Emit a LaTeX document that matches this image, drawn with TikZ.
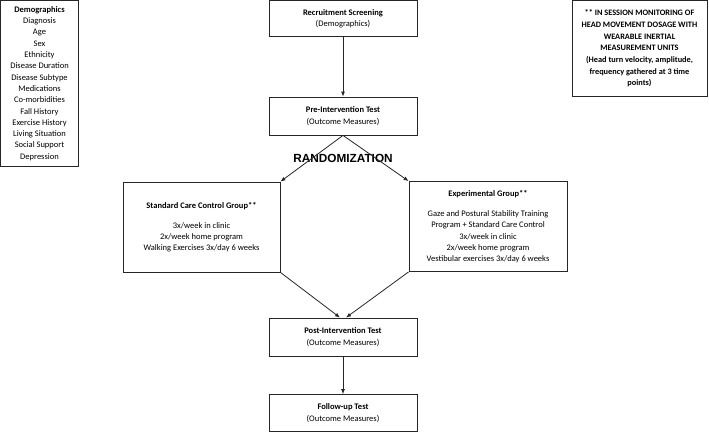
\documentclass[tikz,border=0pt]{standalone}
\usepackage{fontspec}
\setmainfont{Carlito}
\newfontfamily\randfont{Liberation Sans}
\usetikzlibrary{arrows.meta}
\tikzset{
  box/.style={draw=black!85, line width=0.8pt, rectangle, align=center, inner sep=0pt,
    font=\fontsize{8.5}{11.3}\selectfont},
  arr/.style={draw=black!85, line width=0.8pt, -{Latex[length=5pt,width=4pt]}}
}
\begin{document}
\begin{tikzpicture}[x=1pt,y=-1pt]
\useasboundingbox (0,0) rectangle (709,432);
\node[box, minimum width=78pt, minimum height=166pt] (demo) at (39.5,83.5)
  {\textbf{Demographics}\\Diagnosis\\Age\\Sex\\Ethnicity\\Disease Duration\\Disease Subtype\\Medications\\Co-morbidities\\Fall History\\Exercise History\\Living Situation\\Social Support\\Depression};
\node[box, minimum width=135pt, minimum height=96pt, font=\fontsize{8.3}{11.7}\selectfont\bfseries] (note) at (639.5,48.5)
  {** IN SESSION MONITORING OF\\HEAD MOVEMENT DOSAGE WITH\\WEARABLE INERTIAL\\MEASUREMENT UNITS\\(Head turn velocity, amplitude,\\frequency gathered at 3 time\\points)};
\node[box, minimum width=148pt, minimum height=36pt] (recr) at (343,18.5)
  {\textbf{Recruitment Screening}\\(Demographics)};
\node[box, minimum width=148pt, minimum height=38pt] (pre) at (343,116)
  {\textbf{Pre-Intervention Test}\\(Outcome Measures)};
\node[font=\randfont\fontsize{11.8}{14}\selectfont\bfseries, inner sep=0pt] (rand) at (343,158) {RANDOMIZATION};
\node[box, minimum width=157pt, minimum height=90pt, font=\fontsize{8.5}{11}\selectfont] (ctrl) at (201.5,227)
  {\textbf{Standard Care Control Group**}\\[9pt]3x/week in clinic\\2x/week home program\\Walking Exercises 3x/day 6 weeks};
\node[box, minimum width=158pt, minimum height=90pt, font=\fontsize{8.5}{11.3}\selectfont] (exp) at (488,226.5)
  {\textbf{Experimental Group**}\\[9pt]Gaze and Postural Stability Training\\Program + Standard Care Control\\3x/week in clinic\\2x/week home program\\Vestibular exercises 3x/day 6 weeks};
\node[box, minimum width=148pt, minimum height=38pt] (post) at (343,337)
  {\textbf{Post-Intervention Test}\\(Outcome Measures)};
\node[box, minimum width=148pt, minimum height=37pt] (fu) at (343,413)
  {\textbf{Follow-up Test}\\(Outcome Measures)};
\draw[arr] (recr.south) -- (pre.north);
\draw[arr] (pre.south) -- (ctrl.north east);
\draw[arr] (pre.south) -- (exp.north west);
\draw[arr] (ctrl.south east) -- ([xshift=-3pt]post.north);
\draw[arr] (exp.south west) -- ([xshift=3pt]post.north);
\draw[arr] (post.south) -- (fu.north);
\end{tikzpicture}
\end{document}
